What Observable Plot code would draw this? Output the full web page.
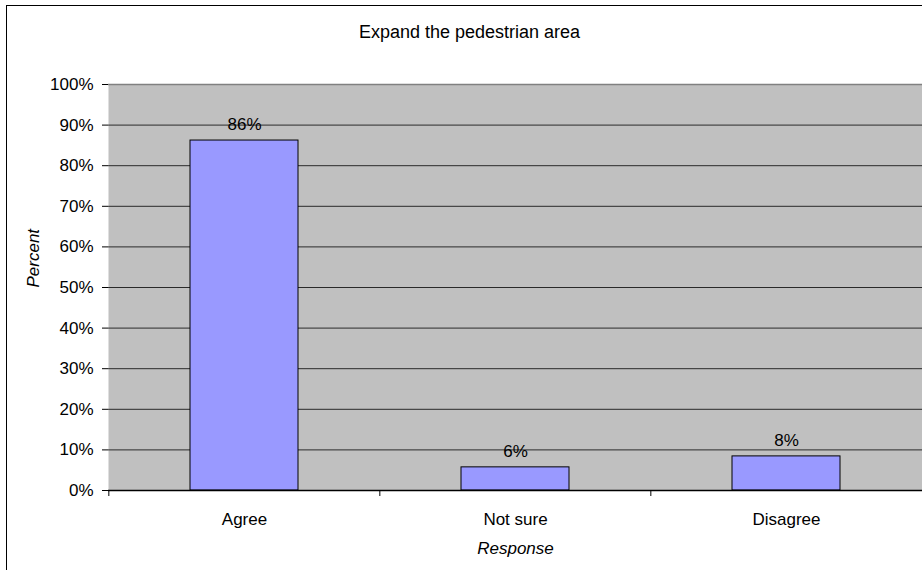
<!DOCTYPE html>
<html>
<head>
<meta charset="utf-8">
<script src="https://cdn.jsdelivr.net/npm/d3@7"></script>
<script src="https://cdn.jsdelivr.net/npm/@observablehq/plot@0.6"></script>
<style>
  html, body { margin: 0; padding: 0; background: #fff; }
  #wrap { position: relative; width: 922px; height: 570px; overflow: hidden; }
  #border { position: absolute; left: 6px; top: 5px; width: 1000px; height: 1000px; border: 1px solid #000; box-sizing: border-box; pointer-events: none; }
  #chart { position: absolute; left: 0; top: 0; }
</style>
</head>
<body>
<div id="wrap">
  <div id="chart"></div>
  <div id="border"></div>
</div>
<script>
const title = "Expand the pedestrian area";
const categories = ["Agree", "Not sure", "Disagree"];
const values = [86.2, 5.7, 8.4];
const yTicks = [0, 10, 20, 30, 40, 50, 60, 70, 80, 90, 100];
const xLabel = "Response";
const yLabel = "Percent";

const data = categories.map((c, i) => ({category: c, value: values[i]}));

const W = 922, H = 570;
const mL = 108, mR = 0, mT = 84, mB = 80;
const step = (W - mL - mR) / categories.length;
const font = "Arial, 'Liberation Sans', sans-serif";

const plot = Plot.plot({
  width: W,
  height: H,
  marginLeft: mL,
  marginRight: mR,
  marginTop: mT,
  marginBottom: mB,
  style: {fontFamily: font, fontSize: "17px", color: "#000", background: "transparent", overflow: "visible"},
  x: {domain: categories, paddingInner: 0.6, paddingOuter: 0.3, label: null},
  y: {domain: [0, 100], label: null},
  marks: [
    Plot.frame({fill: "#c0c0c0", stroke: null}),
    Plot.gridY(yTicks.filter(d => d > 0 && d < 100), {stroke: "#2a2a2a", strokeOpacity: 1, strokeWidth: 1}),
    Plot.ruleY([100], {stroke: "#808080", strokeWidth: 1.5}),
    Plot.barY(data, {x: "category", y: "value", fill: "#9999ff", stroke: "#000", strokeWidth: 1}),
    Plot.ruleY([0], {stroke: "#000", strokeWidth: 1.5}),
    Plot.ruleX([0], {x: () => null, frameAnchor: "left", stroke: "#000", strokeWidth: 1.5}),
    Plot.axisY(yTicks, {tickSize: 6, tickPadding: 9, tickFormat: d => d + "%", fontSize: 17, label: null}),
    Plot.axisX({tickSize: 0, tickPadding: 22, fontSize: 17, label: null}),
    Plot.axisX({tickSize: 6, tickFormat: () => "", dx: -step / 2, label: null}),
    Plot.text(data, {x: "category", y: "value", text: d => Math.round(d.value) + "%", dy: -16, fontSize: 17, fill: "#000"}),
    Plot.text([title], {frameAnchor: "top", lineAnchor: "middle", dx: -46, dy: -52, fontSize: 18, fill: "#000"}),
    Plot.text([xLabel], {frameAnchor: "bottom", lineAnchor: "middle", dy: 58, fontSize: 17, fontStyle: "italic", fill: "#000"}),
    Plot.text([yLabel], {frameAnchor: "left", dx: -75, rotate: -90, fontSize: 17, fontStyle: "italic", fill: "#000"})
  ]
});
document.getElementById("chart").appendChild(plot);
</script>
</body>
</html>
